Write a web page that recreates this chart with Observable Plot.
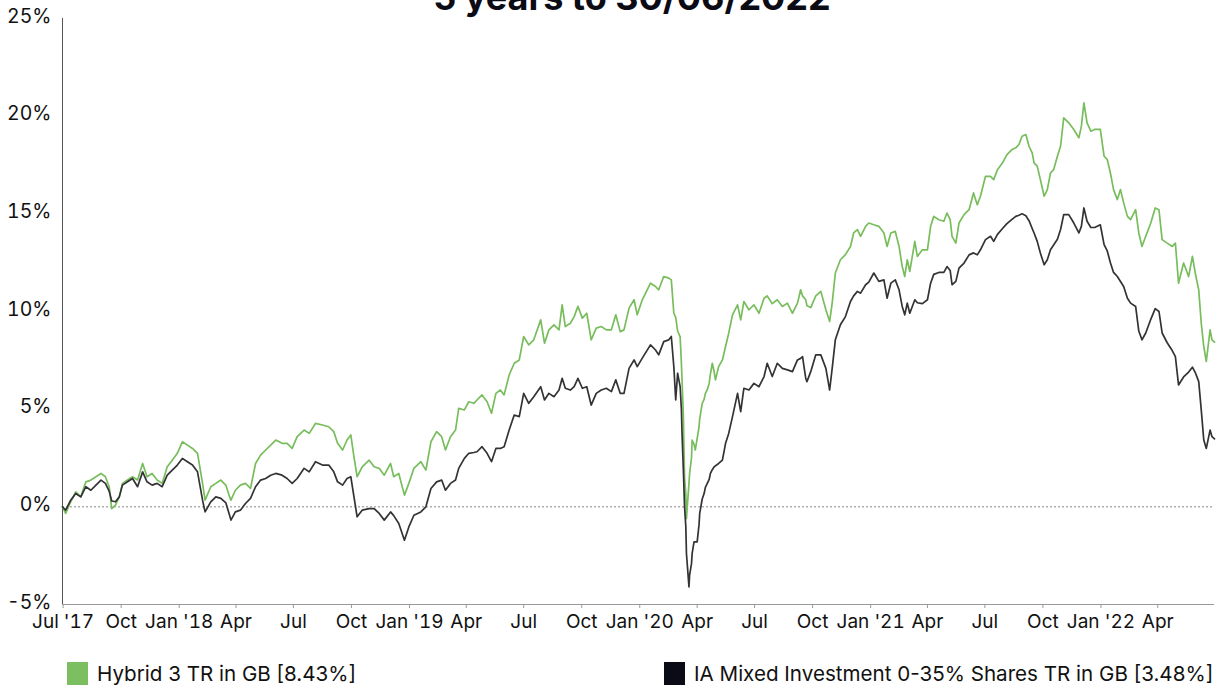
<!DOCTYPE html>
<html><head><meta charset="utf-8">
<script src="https://cdn.jsdelivr.net/npm/d3@7"></script>
<script src="https://cdn.jsdelivr.net/npm/@observablehq/plot@0.6"></script>
<style>
body{margin:0;background:#fff;font-family:Inter,"Noto Sans",sans-serif;}
#wrap{position:relative;width:1221px;height:686px;overflow:hidden;background:#fff;}
#chart{position:absolute;left:0;top:0;}
#title{position:absolute;left:632px;top:-21px;transform:translateX(-50%);font-size:36px;font-weight:700;line-height:36px;white-space:nowrap;color:#0b0b16;}
.item{position:absolute;top:662px;display:flex;align-items:center;font-size:20.6px;color:#111;height:23px;white-space:nowrap;}
.sw{width:21px;height:23px;margin-right:9px;flex:none;}
</style></head>
<body><div id="wrap"><div id="chart"></div><div id="title">5 years to 30/06/2022</div></div>
<script>
const title = "5 years to 30/06/2022";
const seriesNames = ["Hybrid 3 TR in GB [8.43%]", "IA Mixed Investment 0-35% Shares TR in GB [3.48%]"];
const seriesColors = ["#78bd5c", "#333336"];
const legendSwatch = ["#7cbf60", "#0b0b16"];
const startDay = "2017-06-30";
const endDay = "2022-06-30";
// days after 30/06/2017
const days = [0,5,13,21,29,37,45,53,61,68,74,78,84,90,95,103,111,119,127,134,142,150,158,166,174,182,190,198,206,214,222,226,235,243,251,259,264,267,274,282,290,298,306,314,322,330,338,348,356,364,372,383,391,401,412,422,430,436,444,451,457,
462,467,475,486,494,502,510,520,525,533,542,549,557,568,576,584,593,601,607,615,623,628,637,644,652,657,665,673,680,687,694,700,708,716,724,731,739,747,758,764,771,779,787,792,797,805,811,817,824,831,838,846,854,862,870,877,884,890,898,906,911,919,
932,940,945,953,961,965,969,972,975,979,981,982,984,986,988,989,993,994,997,998,1001,1003,1006,1009,1010,1014,1017,1019,1022,1025,1027,1030,1033,1035,1040,1046,1051,1056,1062,1070,1075,1080,1088,1096,1104,1112,1117,1125,1133,1141,1149,1157,1165,1170,1173,1178,1180,1186,1194,1202,1210,1216,1220,1225,1233,1241,1249,1254,1260,1265,1273,1278,1286,1294,1302,1307,
1313,1320,1326,1331,1335,1339,1343,1351,1355,1363,1371,1376,1381,1389,1397,1402,1407,1410,1416,1421,1429,1437,1444,1450,1455,1463,1471,1476,1482,1490,1497,1505,1511,1516,1521,1527,1532,1537,1540,1545,1550,1556,1561,1566,1571,1577,1582,1587,1595,1603,1611,1615,1619,1624,1630,1636,1645,1651,1656,1661,1666,1672,1677,1682,1688,1693,1701,1706,1711,1717,1725,1732,1738,1743,1751,1759,1764,1769,1777,1785,1791,1796,1801,1805,1809,1813,1819,1822,1826];
const hybrid = [0,-0.34,0.26,0.77,0.51,1.28,1.37,1.54,1.71,1.54,1.03,-0.09,0.09,0.51,1.20,1.37,1.54,1.37,2.22,1.54,1.71,1.37,1.20,2.05,2.39,2.74,3.33,3.16,2.99,2.74,1.20,0.34,1.03,1.20,1.37,1.10,0.60,0.34,0.85,1.11,1.20,0.94,2.22,2.65,2.91,3.16,3.42,3.25,3.25,2.99,3.59,3.93,3.76,4.27,4.19,4.10,3.85,3.25,2.91,3.42,3.68,
2.56,1.54,2.05,2.39,2.05,1.97,1.62,2.22,1.54,1.71,0.60,1.20,1.97,2.31,1.88,3.33,3.85,3.59,2.91,3.59,3.93,5.04,4.96,5.38,5.30,5.47,5.73,5.38,4.79,5.81,5.98,5.73,6.75,7.35,7.52,8.72,8.29,8.55,9.57,8.38,9.06,9.32,9.06,10.34,9.23,9.40,9.74,10.26,9.66,9.91,8.55,9.15,9.23,9.06,9.06,9.83,8.97,9.06,10.17,10.60,9.83,10.60,
11.45,11.28,11.11,11.79,11.71,11.62,9.91,9.70,9.00,8.70,7.35,6.50,4.79,1.50,0.68,-0.60,1.20,1.71,2.50,3.42,3.20,2.91,3.50,4.10,4.50,5.30,5.50,5.81,6.00,6.32,6.80,7.35,6.90,6.50,7.18,7.52,8.21,8.89,9.83,10.34,9.57,10.51,10.09,10.34,9.91,10.68,10.80,10.40,10.60,10.26,10.43,9.91,10.43,11.11,10.80,10.60,10.30,10.20,10.80,11.03,10.09,9.49,10.43,11.97,12.65,12.91,13.33,14.02,14.19,13.85,14.36,14.53,14.44,14.36,14.02,13.33,
14.02,14.10,13.33,12.31,11.79,12.65,12.05,13.59,12.82,13.16,13.16,14.36,14.87,14.70,14.62,15.04,14.70,13.85,13.50,14.53,14.96,15.21,16.07,15.47,15.90,16.92,16.92,16.75,17.26,17.61,18.03,18.29,18.38,18.55,18.97,19.06,18.46,18.12,17.61,17.44,16.75,15.90,16.24,17.09,17.26,17.95,18.46,19.91,19.66,19.32,18.89,19.49,20.68,19.66,19.23,19.32,19.32,17.95,17.78,17.09,16.24,15.73,16.24,15.56,14.87,14.70,15.21,14.02,13.33,13.85,14.53,15.30,15.21,13.68,13.50,13.33,13.50,11.45,12.48,11.79,12.82,11.88,11.11,9.40,8.21,7.44,9.06,8.55,8.43];
const mixed = [0,-0.17,0.34,0.68,0.51,1.03,0.85,1.11,1.37,1.20,0.80,0.30,0.26,0.51,1.11,1.28,1.45,1.03,1.79,1.28,1.11,1.20,1.03,1.62,1.88,2.14,2.48,2.31,2.14,1.79,0.34,-0.26,0.25,0.51,0.43,0.20,-0.34,-0.68,-0.26,-0.17,0.17,0.43,1.03,1.37,1.45,1.62,1.71,1.62,1.45,1.20,1.45,1.97,1.79,2.31,2.14,2.14,1.79,1.28,1.11,1.45,1.54,
0.51,-0.51,-0.17,-0.09,-0.09,-0.34,-0.68,-0.26,-0.45,-0.85,-1.71,-1.03,-0.43,-0.26,0,0.94,1.28,1.37,0.85,1.20,1.37,1.97,2.48,2.74,2.78,2.82,3.08,2.74,2.31,2.99,2.99,3.08,3.93,4.70,4.62,5.81,5.30,5.64,6.15,5.47,5.81,5.64,5.98,6.58,6.07,5.98,6.15,6.58,6.07,6.15,5.21,5.81,5.98,6.07,5.90,6.50,5.81,5.81,7.09,7.52,7.18,7.61,
8.29,8.03,7.78,8.46,8.55,8.72,7.18,5.47,6.84,6.15,5.00,3.76,2.00,0.00,-1.00,-2.39,-4.10,-3.50,-2.91,-2.40,-1.79,-1.79,-1.79,-0.90,-0.34,0.40,0.68,1.00,1.20,1.40,1.71,1.90,2.05,2.10,2.22,2.39,3.25,3.76,4.62,5.81,4.87,6.07,5.98,6.32,6.15,6.67,7.35,6.67,7.35,7.09,7.01,6.92,7.52,7.60,7.69,6.60,6.41,6.92,7.78,7.78,7.09,5.98,7.09,8.55,9.32,9.74,10.51,10.80,11.03,10.94,11.37,11.50,11.97,11.54,11.62,10.68,
11.45,11.62,11.11,10.26,9.83,10.43,9.91,10.60,10.45,10.40,10.60,11.45,11.90,12.00,12.00,12.30,12.10,11.37,11.54,12.22,12.48,12.90,13.00,12.90,13.16,13.68,13.85,13.59,13.95,14.25,14.50,14.72,14.87,14.93,15.00,14.90,14.65,14.25,14.02,13.59,12.99,12.39,12.65,13.16,13.40,13.70,14.20,14.96,14.96,14.53,14.02,14.36,15.30,14.62,14.30,14.30,14.44,13.42,13.10,12.50,12.00,11.79,11.54,11.28,10.68,10.43,10.26,9.00,8.55,8.90,9.60,10.15,10.00,8.90,8.40,8.00,7.69,6.24,6.65,6.90,7.15,6.84,6.41,4.96,3.42,2.99,3.93,3.59,3.48];
const yTicks = [-5,0,5,10,15,20,25];
const tickLabels = ["Jul '17","Oct","Jan '18","Apr","Jul","Oct","Jan '19","Apr","Jul","Oct","Jan '20","Apr","Jul","Oct","Jan '21","Apr","Jul","Oct","Jan '22","Apr"];

const start = new Date(startDay + "T00:00:00Z");
const end = new Date(endDay + "T00:00:00Z");
const n = Math.min(days.length, hybrid.length, mixed.length);
if (days.length !== hybrid.length || days.length !== mixed.length) console.error("length mismatch", days.length, hybrid.length, mixed.length);
const data = d3.range(n).map(i => ({date: d3.utcDay.offset(start, days[i]), hybrid: hybrid[i], mixed: mixed[i]}));
const tickDates = d3.utcMonth.every(3).range(new Date(Date.UTC(2017,6,1)), new Date(Date.UTC(2022,5,1)));
const labelMap = new Map(tickDates.map((d, i) => [+d, tickLabels[i]]));

const chart = Plot.plot({
  width: 1221, height: 644,
  marginTop: 18, marginLeft: 62, marginRight: 7, marginBottom: 40,
  style: {fontFamily: "Inter, 'Noto Sans', sans-serif", fontSize: "19px", color: "#111", background: "transparent"},
  x: {type: "utc", domain: [start, end]},
  y: {domain: [-5, 25]},
  marks: [
    Plot.ruleY([0], {stroke: "#8a8a8a", strokeDasharray: "2,2", strokeWidth: 1}),
    Plot.ruleY([-5], {stroke: "#999", strokeWidth: 1}),
    Plot.ruleX([start], {stroke: "#555", strokeWidth: 1}),
    Plot.axisX({ticks: tickDates, tickFormat: d => labelMap.get(+d) ?? "", tickSize: 4, tickPadding: 6, stroke: "#999", fill: "#111", label: null}),
    Plot.axisY({ticks: yTicks, tickFormat: d => d + "%", tickSize: 0, tickPadding: 11, dy: -2, fontSize: 19.5, fill: "#111", label: null}),
    Plot.line(data, {x: "date", y: "hybrid", stroke: seriesColors[0], strokeWidth: 1.7}),
    Plot.line(data, {x: "date", y: "mixed", stroke: seriesColors[1], strokeWidth: 1.7})
  ]
});
document.getElementById("chart").appendChild(chart);

const legendLeft = [67, 664];
const wrap = document.getElementById("wrap");
seriesNames.forEach((name, i) => {
  const item = document.createElement("div");
  item.className = "item";
  item.style.left = legendLeft[i] + "px";
  const sw = document.createElement("div");
  sw.className = "sw";
  sw.style.background = legendSwatch[i];
  const t = document.createElement("span");
  t.textContent = name;
  item.appendChild(sw); item.appendChild(t);
  wrap.appendChild(item);
});
</script></body></html>
